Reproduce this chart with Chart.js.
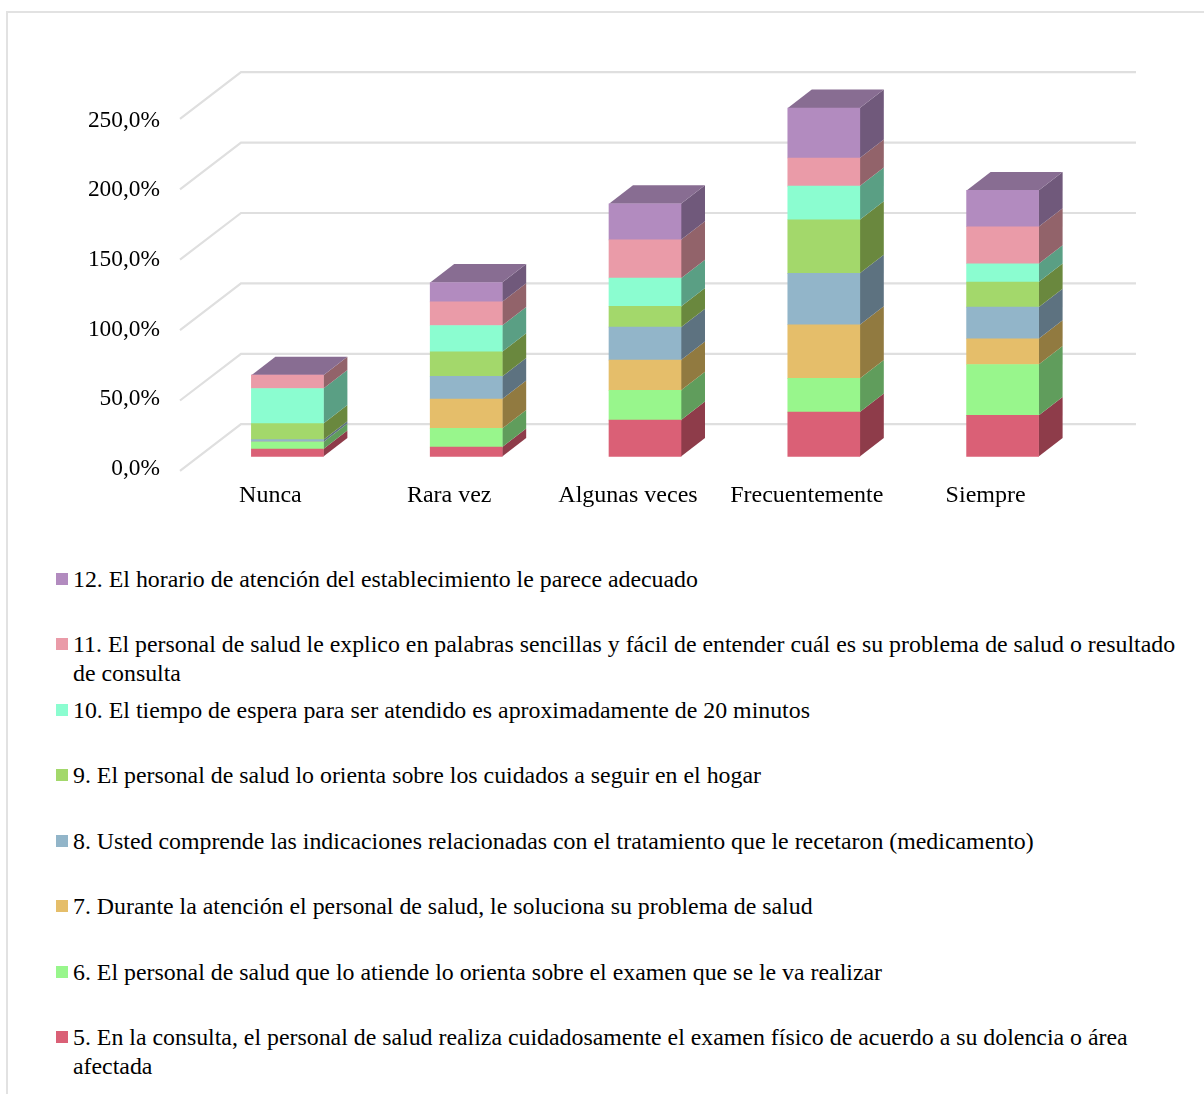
<!DOCTYPE html>
<html lang="es">
<head>
<meta charset="utf-8">
<title>Distribución de respuestas por frecuencia</title>
<script src="https://cdn.jsdelivr.net/npm/chart.js@4"></script>
<style>
  html, body { margin: 0; padding: 0; width: 1204px; height: 1094px; overflow: hidden; background: #fff; }
  #frame { position: absolute; left: 6px; top: 11px; right: -4px; bottom: -4px; border: 2px solid #e2e2e2; }
  #plot { position: absolute; left: 0; top: 0; }
  #key { position: absolute; left: 0; top: 0; width: 1204px; font: 23.85px/28.6px "Liberation Serif", serif; color: #000; }
  .entry { position: absolute; left: 73px; width: 1112px; }
  .entry i { position: absolute; left: -17px; top: 8px; width: 12px; height: 12px; }
</style>
</head>
<body>
<div id="frame"></div>
<canvas id="plot" width="1204" height="540"></canvas>
<div id="key"></div>
<script>
const categories = ["Nunca", "Rara vez", "Algunas veces", "Frecuentemente", "Siempre"];
const tickValues = [0, 50, 100, 150, 200, 250];

const q5  = [5.2,  6.6, 25.8, 31.5, 29.1];
const q6  = [5.0, 13.3, 21.1, 23.9, 36.2];
const q7  = [0.0, 20.8, 21.5, 38.1, 18.2];
const q8  = [1.7, 16.1, 23.4, 36.5, 22.5];
const q9  = [11.4, 17.5, 14.7, 38.1, 17.8];
const q10 = [24.9, 18.7, 20.1, 23.9, 13.0];
const q11 = [9.5, 16.8, 27.2, 19.9, 26.3];
const q12 = [0.0, 13.7, 25.6, 35.5, 25.8];

const seriesNames = [
  "5. En la consulta, el personal de salud realiza cuidadosamente el examen físico de acuerdo a su dolencia o área afectada",
  "6. El personal de salud que lo atiende lo orienta sobre el examen que se le va realizar",
  "7. Durante la atención el personal de salud, le soluciona su problema de salud",
  "8. Usted comprende las indicaciones relacionadas con el tratamiento que le recetaron (medicamento)",
  "9. El personal de salud lo orienta sobre los cuidados a seguir en el hogar",
  "10. El tiempo de espera para ser atendido es aproximadamente de 20 minutos",
  "11. El personal de salud le explico en palabras sencillas y fácil de entender cuál es su problema de salud o resultado de consulta",
  "12. El horario de atención del establecimiento le parece adecuado"
];
const seriesValues = [q5, q6, q7, q8, q9, q10, q11, q12];
const frontColors = ["#DA6076", "#98F68C", "#E5BE6A", "#92B5C9", "#A3D86B", "#8BFDD0", "#EA9BA8", "#B28BBF"];
const sideColors  = ["#8E3C4A", "#609D5C", "#917A40", "#5D7280", "#6A883E", "#5A9F84", "#92636A", "#70597B"];
const topColor = "#886D92";

// Plot geometry, in canvas pixels
const areaTop = 60, areaBottom = 480, areaLeft = 198, areaRight = 1092;
const zeroY = 456.4, unitPx = 1.408;          // bar plane
const labelZeroY = 468.8, labelUnitPx = 1.3936; // tick label column
const barDepth = { dx: 24, dy: -18.5 };       // visible side of each column
const floorFront = { dx: -18, dy: 14.5 };     // wall grid line, near end
const floorBack  = { dx: 43, dy: -32.2 };     // wall grid line, far end
const serif = '"Liberation Serif", serif';

const pseudo3d = {
  id: "pseudo3d",
  beforeDatasetsDraw(chart) {
    const { ctx, chartArea, scales } = chart;
    ctx.save();
    // Back wall and floor lines
    ctx.strokeStyle = "#dfdfdf";
    ctx.lineWidth = 2.2;
    ctx.lineJoin = "miter";
    tickValues.forEach(v => {
      const y = scales.y.getPixelForValue(v);
      ctx.beginPath();
      ctx.moveTo(chartArea.left + floorFront.dx, y + floorFront.dy);
      ctx.lineTo(chartArea.left + floorBack.dx, y + floorBack.dy);
      ctx.lineTo(chartArea.right + floorBack.dx + 1, y + floorBack.dy);
      ctx.stroke();
    });
    // Right side of every stacked segment
    chart.data.datasets.forEach((ds, d) => {
      chart.getDatasetMeta(d).data.forEach(bar => {
        const right = bar.x + bar.width / 2;
        ctx.fillStyle = sideColors[d];
        ctx.beginPath();
        ctx.moveTo(right, bar.base);
        ctx.lineTo(right + barDepth.dx, bar.base + barDepth.dy);
        ctx.lineTo(right + barDepth.dx, bar.y + barDepth.dy);
        ctx.lineTo(right, bar.y);
        ctx.closePath();
        ctx.fill();
      });
    });
    // Lid of each column, sitting on the last stacked series
    const last = chart.data.datasets.length - 1;
    chart.getDatasetMeta(last).data.forEach(bar => {
      const l = bar.x - bar.width / 2, r = bar.x + bar.width / 2;
      ctx.fillStyle = topColor;
      ctx.beginPath();
      ctx.moveTo(l, bar.y);
      ctx.lineTo(r, bar.y);
      ctx.lineTo(r + barDepth.dx, bar.y + barDepth.dy);
      ctx.lineTo(l + barDepth.dx, bar.y + barDepth.dy);
      ctx.closePath();
      ctx.fill();
    });
    ctx.restore();
  }
};

const chart = new Chart(document.getElementById("plot"), {
  type: "bar",
  plugins: [pseudo3d],
  data: {
    labels: categories,
    datasets: seriesValues.map((values, i) => ({
      label: seriesNames[i],
      data: values,
      backgroundColor: frontColors[i],
      borderWidth: 0,
      barThickness: 72,
      stack: "total"
    }))
  },
  options: {
    responsive: false,
    animation: false,
    layout: { padding: { top: areaTop, right: 1204 - areaRight, left: 0, bottom: 0 } },
    plugins: { legend: { display: false }, tooltip: { enabled: false }, title: { display: false } },
    scales: {
      x: {
        stacked: true,
        grid: { display: false, drawTicks: false },
        border: { display: false },
        ticks: {
          font: { family: serif, size: 24 },
          color: "#000",
          padding: 1,
          labelOffset: -17,
          maxRotation: 0,
          autoSkip: false
        },
        afterFit(scale) { scale.height = 540 - areaBottom; }
      },
      y: {
        stacked: true,
        display: false,
        min: -(areaBottom - zeroY) / unitPx,
        max: (zeroY - areaTop) / unitPx
      },
      tickColumn: {
        type: "linear",
        position: "left",
        min: -(areaBottom - labelZeroY) / labelUnitPx,
        max: (labelZeroY - areaTop) / labelUnitPx,
        grid: { display: false, drawTicks: false },
        border: { display: false },
        ticks: {
          font: { family: serif, size: 23.4 },
          color: "#000",
          padding: 38,
          callback: v => v.toFixed(1).replace(".", ",") + "%"
        },
        afterBuildTicks(scale) { scale.ticks = tickValues.map(value => ({ value })); },
        afterFit(scale) { scale.width = areaLeft; }
      }
    }
  }
});

// Legend listing the series from the top of the stack downwards
const keyFirstTop = 564.6, keyStep = 65.5;
const key = document.getElementById("key");
const items = Chart.defaults.plugins.legend.labels.generateLabels(chart).reverse();
items.forEach((item, i) => {
  const row = document.createElement("div");
  row.className = "entry";
  row.style.top = (keyFirstTop + i * keyStep) + "px";
  const swatch = document.createElement("i");
  swatch.style.background = item.fillStyle;
  row.appendChild(swatch);
  row.appendChild(document.createTextNode(item.text));
  key.appendChild(row);
});
</script>
</body>
</html>
